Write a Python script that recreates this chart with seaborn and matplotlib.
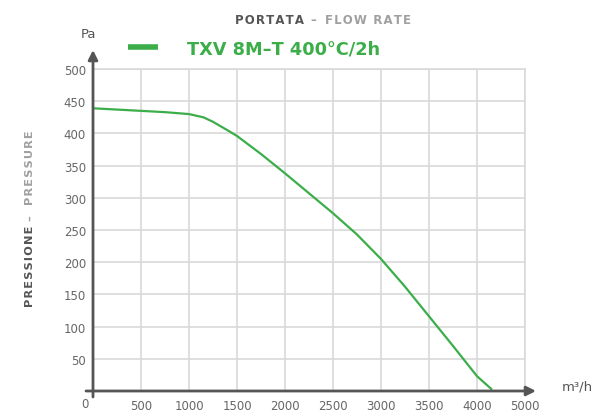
import matplotlib
matplotlib.use("Agg")
import matplotlib.pyplot as plt
import seaborn as sns
import pandas as pd

# dati
portata = [0, 250, 500, 750, 1000, 1150, 1250, 1400, 1500, 1750, 2000, 2250,
           2500, 2750, 3000, 3250, 3500, 3750, 4000, 4150]
pressione = [439, 437, 435, 433, 430, 425, 418, 405, 396, 368, 338, 307,
             276, 243, 205, 162, 116, 70, 23, 3]
x_ticks = [500, 1000, 1500, 2000, 2500, 3000, 3500, 4000, 4500]
x_labels = ['500', '1000', '1500', '2000', '2500', '3000', '3500', '4000', '5000']
y_ticks = [50, 100, 150, 200, 250, 300, 350, 400, 450, 500]
serie = 'TXV 8M–T 400°C/2h'

verde = '#3cae49'
scuro = '#555555'
chiaro = '#a0a0a0'
griglia = '#d9d9d9'


def spaziato(testo):
    # spaziatura larga tra le lettere come nell'originale
    return '\u200a'.join(testo)


df = pd.DataFrame({'portata': portata, 'pressione': pressione})

sns.set_style('white')
plt.rcParams['font.family'] = ['DejaVu Sans']

fig = plt.figure(figsize=(5.98, 4.14), dpi=100)
W, H = 598, 414
ax = fig.add_axes([93 / W, 1 - 392 / H, 432 / W, 322 / H])

sns.lineplot(data=df, x='portata', y='pressione', color=verde, lw=1.6,
             label=serie, ax=ax, zorder=3)

ax.set_xlim(0, 4500)
ax.set_ylim(0, 500)
ax.set_xticks(x_ticks)
ax.set_xticklabels(x_labels)
ax.set_yticks(y_ticks)
ax.grid(True, color=griglia, lw=1.2)
ax.tick_params(length=0, labelsize=8.5, labelcolor='#666666')
ax.tick_params(axis='x', pad=6)
ax.tick_params(axis='y', pad=5)
ax.set_xlabel('')
ax.set_ylabel('')
for s in ['left', 'bottom']:
    ax.spines[s].set_visible(False)
for s in ['right', 'top']:
    ax.spines[s].set_color(griglia)
    ax.spines[s].set_linewidth(1.2)

# assi con frecce
freccia = dict(arrowstyle='-|>', color=scuro, lw=2, mutation_scale=14, shrinkA=0, shrinkB=0)
ax.annotate('', xy=(443 / 432, 0), xytext=(-7 / 432, 0), xycoords='axes fraction',
            arrowprops=freccia, annotation_clip=False)
ax.annotate('', xy=(0, 341 / 322), xytext=(0, -6 / 322), xycoords='axes fraction',
            arrowprops=freccia, annotation_clip=False)

fig.text(85 / W, 1 - 405 / H, '0', ha='center', va='center', fontsize=8.5, color='#666666')
fig.text(88 / W, 1 - 35 / H, 'Pa', ha='center', va='center', fontsize=9.5, color=scuro)
fig.text(577 / W, 1 - 387 / H, 'm³/h', ha='center', va='center', fontsize=9.5, color=scuro)

# titoli (parte scura, trattino, parte chiara)
tit = dict(fontsize=8.5, fontweight='bold', va='baseline')
fig.text(235 / W, 1 - 24 / H, spaziato('PORTATA'), ha='left', color=scuro, **tit)
fig.text(313 / W, 1 - 24 / H, '–', ha='center', color=chiaro, **tit)
fig.text(411 / W, 1 - 24 / H, spaziato('FLOW RATE'), ha='right', color=chiaro, **tit)

ylab = dict(fontsize=8.2, fontweight='bold', rotation=90, ha='center')
fig.text(30 / W, 1 - 307 / H, spaziato('PRESSIONE'), va='bottom', color=scuro, **ylab)
fig.text(30 / W, 1 - 218 / H, '–', va='center', color=chiaro, **ylab)
fig.text(30 / W, 1 - 130 / H, spaziato('PRESSURE'), va='top', color=chiaro, **ylab)

leg = ax.legend(loc='center left', bbox_to_anchor=(128 / W, 1 - 49 / H),
                bbox_transform=fig.transFigure, frameon=False, borderpad=0,
                borderaxespad=0, handlelength=1.7, handletextpad=1.6,
                prop={'weight': 'bold', 'size': 12.8})
for t in leg.get_texts():
    t.set_color(verde)
for l in leg.get_lines():
    l.set_linewidth(4)
    l.set_solid_capstyle('butt')

fig.savefig('out.png', dpi=100)
